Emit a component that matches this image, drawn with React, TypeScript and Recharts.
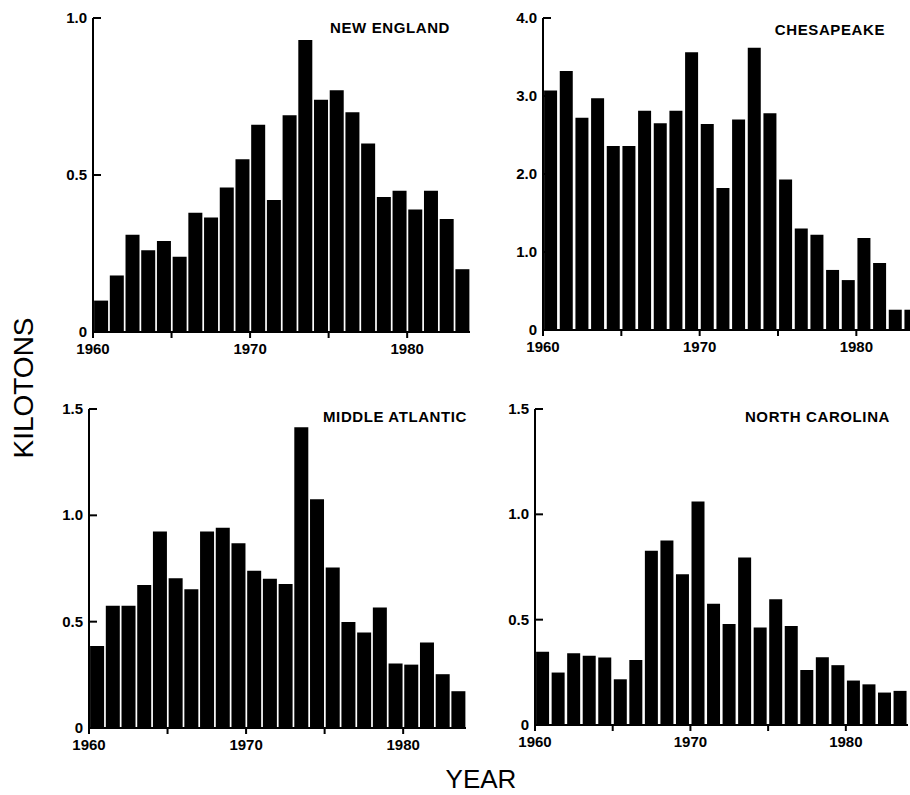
import { Bar, BarChart, XAxis, YAxis } from "recharts";

const years = [
  1960, 1961, 1962, 1963, 1964, 1965, 1966, 1967, 1968, 1969, 1970, 1971,
  1972, 1973, 1974, 1975, 1976, 1977, 1978, 1979, 1980, 1981, 1982, 1983,
];

const newEngland = [
  0.1, 0.18, 0.31, 0.26, 0.29, 0.24, 0.38, 0.365, 0.46, 0.55, 0.66, 0.42,
  0.69, 0.93, 0.74, 0.77, 0.7, 0.6, 0.43, 0.45, 0.39, 0.45, 0.36, 0.2,
];
const chesapeake = [
  3.07, 3.32, 2.72, 2.97, 2.36, 2.36, 2.81, 2.65, 2.81, 3.56, 2.64, 1.82,
  2.7, 3.62, 2.78, 1.93, 1.3, 1.22, 0.77, 0.64, 1.18, 0.86, 0.26, 0.26,
];
const middleAtlantic = [
  0.385, 0.575, 0.575, 0.672, 0.924, 0.704, 0.653, 0.924, 0.942, 0.869, 0.74, 0.702,
  0.677, 1.414, 1.076, 0.755, 0.499, 0.449, 0.567, 0.303, 0.298, 0.402, 0.253, 0.173,
];
const northCarolina = [
  0.348, 0.249, 0.341, 0.329, 0.32, 0.217, 0.309, 0.827, 0.876, 0.716, 1.061, 0.575,
  0.48, 0.795, 0.463, 0.597, 0.47, 0.261, 0.322, 0.284, 0.211, 0.193, 0.154, 0.162,
];

const ticksNE = [0, 0.5, 1];
const ticksChes = [0, 1, 2, 3, 4];
const ticksLow = [0, 0.5, 1, 1.5];

const FONT = "'Liberation Sans', Arial, sans-serif";

const fmt = (v: number) => (v === 0 ? "0" : v.toFixed(1));

function YTick(props: any) {
  const { x, y, payload } = props;
  return (
    <g>
      {payload.value !== 0 && (
        <line x1={x + 6} x2={x + 14} y1={y} y2={y} stroke="#000" strokeWidth={2} />
      )}
      <text x={x} y={y} dy={5} textAnchor="end" fontSize={15} fontWeight="bold" fontFamily={FONT} fill="#000">
        {fmt(payload.value)}
      </text>
    </g>
  );
}

// ticks sit on the left edge of each year's band (year boundary), every 5 years
function XTick(props: any) {
  const { x, y, payload, bw } = props;
  const yr = Number(payload.value);
  if (yr % 5 !== 0) return <g />;
  const tx = x - bw / 2;
  return (
    <g>
      <line x1={tx} x2={tx} y1={y} y2={y + 6} stroke="#000" strokeWidth={2} />
      {yr % 10 === 0 && (
        <text x={tx} y={y + 22} textAnchor="middle" fontSize={15} fontWeight="bold" fontFamily={FONT} fill="#000">
          {yr}
        </text>
      )}
    </g>
  );
}

type PanelProps = {
  values: number[];
  yMax: number;
  yTicks: number[];
  left: number;
  top: number;
  width: number;
  height: number;
};

function Panel({ values, yMax, yTicks, left, top, width, height }: PanelProps) {
  const rows = years.map((year, i) => ({ year, v: values[i] }));
  const bw = (width - 50) / years.length;
  return (
    <div style={{ position: "absolute", left, top }}>
      <BarChart
        width={width}
        height={height}
        data={rows}
        margin={{ top: 10, right: 0, bottom: 0, left: 0 }}
        barCategoryGap="7%"
      >
        <XAxis
          dataKey="year"
          type="category"
          interval={0}
          height={40}
          axisLine={{ stroke: "#000", strokeWidth: 2 }}
          tickLine={false}
          tickSize={0}
          tickMargin={0}
          tick={<XTick bw={bw} />}
        />
        <YAxis
          type="number"
          domain={[0, yMax]}
          ticks={yTicks}
          interval={0}
          width={50}
          axisLine={{ stroke: "#000", strokeWidth: 2 }}
          tickLine={false}
          tickSize={0}
          tickMargin={6}
          tick={<YTick />}
        />
        <Bar dataKey="v" fill="#000" isAnimationActive={false} />
      </BarChart>
    </div>
  );
}

const titleStyle = {
  fontSize: 15,
  fontWeight: "bold" as const,
  fontFamily: FONT,
  letterSpacing: 0.6,
};

export default function App() {
  return (
    <div
      style={{
        position: "fixed",
        left: 0,
        top: 0,
        width: 910,
        height: 795,
        overflow: "hidden",
        background: "#fff",
        fontFamily: FONT,
      }}
    >
      <Panel values={newEngland} yMax={1} yTicks={ticksNE} left={43} top={8} width={427} height={364} />
      <Panel values={chesapeake} yMax={4} yTicks={ticksChes} left={493} top={8} width={426} height={362} />
      <Panel values={middleAtlantic} yMax={1.5} yTicks={ticksLow} left={39} top={399} width={427} height={369} />
      <Panel values={northCarolina} yMax={1.5} yTicks={ticksLow} left={485} top={399} width={423} height={366} />

      <svg
        width={910}
        height={795}
        style={{ position: "absolute", left: 0, top: 0, pointerEvents: "none" }}
      >
        <text x={450} y={33} textAnchor="end" {...titleStyle}>NEW ENGLAND</text>
        <text x={885} y={35} textAnchor="end" {...titleStyle}>CHESAPEAKE</text>
        <text x={467} y={422} textAnchor="end" {...titleStyle}>MIDDLE ATLANTIC</text>
        <text x={890} y={422} textAnchor="end" {...titleStyle}>NORTH CAROLINA</text>
        <text
          x={33}
          y={388}
          textAnchor="middle"
          fontSize={28}
          fontFamily={FONT}
          transform="rotate(-90, 33, 388)"
        >
          KILOTONS
        </text>
        <text x={481} y={788} textAnchor="middle" fontSize={26} fontFamily={FONT}>
          YEAR
        </text>
      </svg>
    </div>
  );
}
